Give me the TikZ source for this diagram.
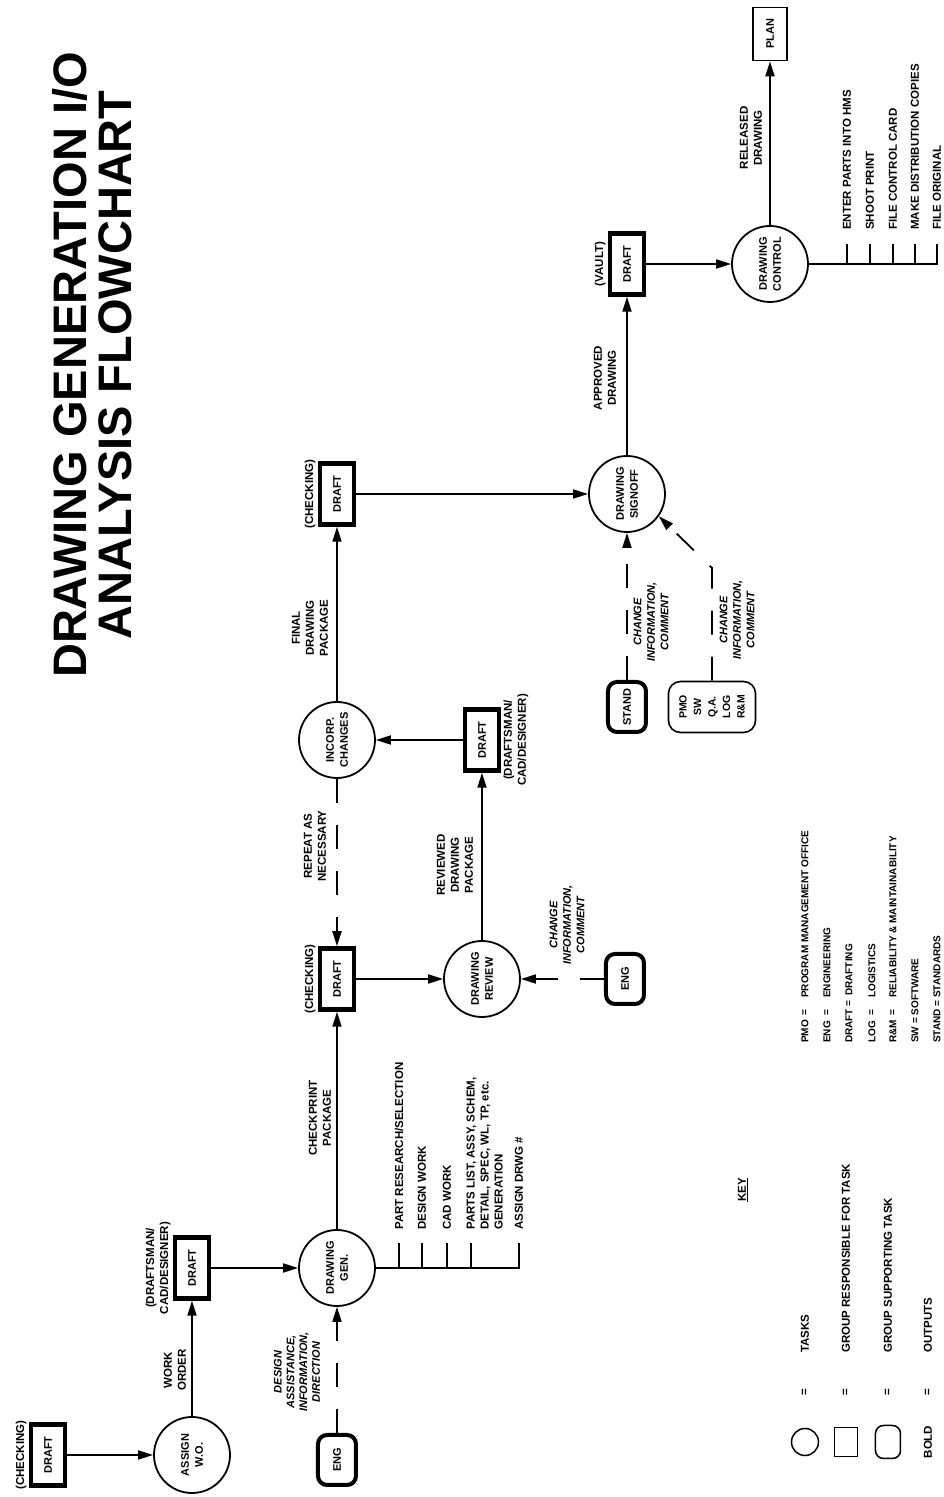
\documentclass[tikz,border=0pt]{standalone}
\usepackage{fontspec}
\setmainfont{Liberation Sans}
\usetikzlibrary{arrows.meta,calc}
\tikzset{
 flow/.style={line width=1.8pt,-{Triangle[length=15pt,width=9pt]}},
 support/.style={flow,dash pattern=on 24pt off 22pt},
 bus/.style={line width=1.6pt},
 task/.style={circle,draw,line width=1.8pt,minimum size=76pt,inner sep=0,align=center,font=\fontsize{11}{14}\selectfont\bfseries},
 draftbox/.style={draw,line width=4.5pt,minimum width=61pt,minimum height=34pt,inner sep=0,font=\fontsize{11}{13}\selectfont\bfseries},
 helper/.style={draw,rounded corners=9pt,line width=4pt,minimum width=50pt,minimum height=38pt,inner sep=0,font=\fontsize{11}{13}\selectfont\bfseries},
 othergroup/.style={draw,rounded corners=12pt,line width=1.6pt,minimum width=51pt,minimum height=87pt,inner sep=0,align=center,font=\fontsize{10.5}{14.5}\selectfont\bfseries},
 outbox/.style={draw,line width=1.6pt,minimum width=53pt,minimum height=34pt,inner sep=0,font=\fontsize{11}{13}\selectfont\bfseries},
 flowlabel/.style={align=center,inner sep=0,font=\fontsize{11.5}{14}\selectfont\bfseries},
 inlabel/.style={align=center,inner sep=0,font=\fontsize{11}{13.5}\selectfont\bfseries\itshape},
 duty/.style={anchor=west,align=left,inner sep=0,font=\fontsize{11.5}{14}\selectfont\bfseries},
 keytext/.style={anchor=west,inner sep=0,font=\fontsize{11.5}{14}\selectfont\bfseries},
 abbrev/.style={anchor=west,inner sep=0,font=\fontsize{10}{12}\selectfont\bfseries}
}
\begin{document}
\begin{tikzpicture}[x=1pt,y=1pt,rotate=90,transform shape]
\useasboundingbox (0,0) rectangle (1497,944);
\node[anchor=base,font=\fontsize{47}{45}\selectfont\bfseries] (title1) at (1132,857) {DRAWING GENERATION I/O};
\node[anchor=base,font=\fontsize{47}{45}\selectfont\bfseries] (title2) at (1132,812) {ANALYSIS FLOWCHART};
% work order and drawing generation
\node[draftbox] (chk1) at (42,896) {DRAFT};
\node[flowlabel,anchor=south] (chk1lbl) at ($(chk1.north)+(0,2)$) {(CHECKING)};
\node[task] (assign) at (42,752) {ASSIGN\\W.O.};
\draw[flow] (chk1) -- (assign);
\node[draftbox] (dft1) at (229,752) {DRAFT};
\node[flowlabel,anchor=south] (dft1lbl) at ($(dft1.north)+(0,2)$) {(DRAFTSMAN/\\CAD/DESIGNER)};
\draw[flow] (assign) -- (dft1);
\node[flowlabel] (wolbl) at (127,769) {WORK\\ORDER};
\node[task] (gen) at (229,607) {DRAWING\\GEN.};
\draw[flow] (dft1) -- (gen);
\node[helper] (eng1) at (37,607) {ENG};
\draw[support] (eng1) -- (gen);
\node[inlabel,font=\fontsize{11}{12.7}\selectfont\bfseries\itshape] (assistlbl) at (125,647) {DESIGN\\ASSISTANCE,\\INFORMATION,\\DIRECTION};
\coordinate (gt1) at (229,545);
\coordinate (gt2) at (229,522);
\coordinate (gt3) at (229,497);
\coordinate (gt4) at (229,473);
\coordinate (gt5) at (229,425);
\draw[bus] (gen.south) -- (gt5) -- ++(25,0);
\foreach \t in {gt1,gt2,gt3,gt4} \draw[bus] (\t) -- ++(25,0);
\node[duty] (partres) at (267,545) {PART RESEARCH/SELECTION};
\node[duty] (desw) at (267,522) {DESIGN WORK};
\node[duty] (cadw) at (267,497) {CAD WORK};
\node[duty,anchor=north west] (partsl) at (267,477.5) {PARTS LIST, ASSY, SCHEM,\\DETAIL, SPEC, WL, TP, etc.\\GENERATION};
\node[duty] (drwgno) at (267,425) {ASSIGN DRWG \#};
% checking and review
\node[flowlabel] (cplbl) at (379,624) {CHECKPRINT\\PACKAGE};
\node[draftbox] (chk2) at (518,607) {DRAFT};
\node[flowlabel,anchor=south] (chk2lbl) at ($(chk2.north)+(0,2)$) {(CHECKING)};
\draw[flow] (gen) -- (chk2);
\node[task] (review) at (518,462) {DRAWING\\REVIEW};
\draw[flow] (chk2) -- (review);
\node[helper] (eng2) at (518,319) {ENG};
\draw[support] (eng2) -- (review);
\node[inlabel] (eng2lbl) at (572,377) {CHANGE\\INFORMATION,\\COMMENT};
\node[flowlabel] (rvlbl) at (632,489) {REVIEWED\\DRAWING\\PACKAGE};
\node[draftbox] (dft2) at (757,462) {DRAFT};
\node[flowlabel,anchor=north] (dft2lbl) at ($(dft2.south)-(0,2)$) {(DRAFTSMAN/\\CAD/DESIGNER)};
\draw[flow] (review) -- (dft2);
\node[task] (incorp) at (757,607) {INCORP.\\CHANGES};
\draw[flow] (dft2) -- (incorp);
\draw[support] (incorp) -- (chk2);
\node[flowlabel] (replbl) at (651,629) {REPEAT AS\\NECESSARY};
% signoff and release
\node[flowlabel] (finlbl) at (869,634) {FINAL\\DRAWING\\PACKAGE};
\node[draftbox] (chk3) at (1003,607) {DRAFT};
\node[flowlabel,anchor=south] (chk3lbl) at ($(chk3.north)+(0,2)$) {(CHECKING)};
\draw[flow] (incorp) -- (chk3);
\node[task] (signoff) at (1003,317) {DRAWING\\SIGNOFF};
\draw[flow] (chk3) -- (signoff);
\node[helper] (stand) at (790,317) {STAND};
\draw[support] (stand) -- (signoff);
\node[inlabel] (standlbl) at (875,293) {CHANGE\\INFORMATION,\\COMMENT};
\node[othergroup] (pmo) at (790,232) {PMO\\SW\\Q.A.\\LOG\\R\&M};
\coordinate (pmobend) at (929,232);
\draw[support] (pmo) -- (pmobend) -- (signoff.-125);
\node[inlabel] (pmolbl) at (877,207) {CHANGE\\INFORMATION,\\COMMENT};
\node[draftbox] (vault) at (1233,317) {DRAFT};
\node[flowlabel,anchor=south] (vaultlbl) at ($(vault.north)+(0,2)$) {(VAULT)};
\draw[flow] (signoff) -- (vault);
\node[flowlabel] (aplbl) at (1119,339) {APPROVED\\DRAWING};
\node[task] (control) at (1233,174) {DRAWING\\CONTROL};
\draw[flow] (vault) -- (control);
\node[outbox] (plan) at (1463,174) {PLAN};
\draw[flow] (control) -- (plan);
\node[flowlabel] (rllbl) at (1359,193) {RELEASED\\DRAWING};
\coordinate (ct1) at (1233,97);
\coordinate (ct2) at (1233,74);
\coordinate (ct3) at (1233,51);
\coordinate (ct4) at (1233,29);
\coordinate (ct5) at (1233,7);
\draw[bus] (control.south) -- (ct5) -- ++(20,0);
\foreach \t in {ct1,ct2,ct3,ct4} \draw[bus] (\t) -- ++(20,0);
\node[duty] (hms) at (1267,97) {ENTER PARTS INTO HMS};
\node[duty] (shoot) at (1267,74) {SHOOT PRINT};
\node[duty] (card) at (1267,51) {FILE CONTROL CARD};
\node[duty] (copies) at (1267,29) {MAKE DISTRIBUTION COPIES};
\node[duty] (orig) at (1267,7) {FILE ORIGINAL};
% key
\node[keytext,anchor=center] (keyttl) at (307,201) {\underline{KEY}};
\node[draw,circle,line width=1.5pt,minimum size=27pt,inner sep=0] (keytask) at (55,139) {};
\node[draw,line width=1.5pt,minimum width=29pt,minimum height=23pt,inner sep=0] (keygroup) at (55,98) {};
\node[draw,rounded corners=8pt,line width=1.5pt,minimum width=33pt,minimum height=25pt,inner sep=0] (keysupp) at (55,56) {};
\node[keytext,anchor=center] (keybold) at (55,16) {BOLD};
\node[keytext,anchor=center] (eq1) at (105,139) {=};
\node[keytext,anchor=center] (eq2) at (105,98) {=};
\node[keytext,anchor=center] (eq3) at (105,56) {=};
\node[keytext,anchor=center] (eq4) at (105,16) {=};
\node[keytext] (ktask) at (144,139) {TASKS};
\node[keytext] (kgroup) at (144,98) {GROUP RESPONSIBLE FOR TASK};
\node[keytext] (ksupp) at (144,56) {GROUP SUPPORTING TASK};
\node[keytext] (kout) at (144,16) {OUTPUTS};
\node[abbrev] (ab1) at (454,139) {PMO};
\node[abbrev,anchor=center] at (484,139) {=};
\node[abbrev] at (499,139) {PROGRAM MANAGEMENT OFFICE};
\node[abbrev] (ab2) at (454,117) {ENG};
\node[abbrev,anchor=center] at (484,117) {=};
\node[abbrev] at (499,117) {ENGINEERING};
\node[abbrev] (ab3) at (454,95) {DRAFT};
\node[abbrev,anchor=center] at (493,95) {=};
\node[abbrev] at (501,95) {DRAFTING};
\node[abbrev] (ab4) at (454,72) {LOG};
\node[abbrev,anchor=center] at (484,72) {=};
\node[abbrev] at (499,72) {LOGISTICS};
\node[abbrev] (ab5) at (454,51) {R\&M};
\node[abbrev,anchor=center] at (484,51) {=};
\node[abbrev] at (499,51) {RELIABILITY \& MAINTAINABILITY};
\node[abbrev] (ab6) at (454,29) {SW = SOFTWARE};
\node[abbrev] (ab7) at (454,7) {STAND = STANDARDS};
\end{tikzpicture}
\end{document}
